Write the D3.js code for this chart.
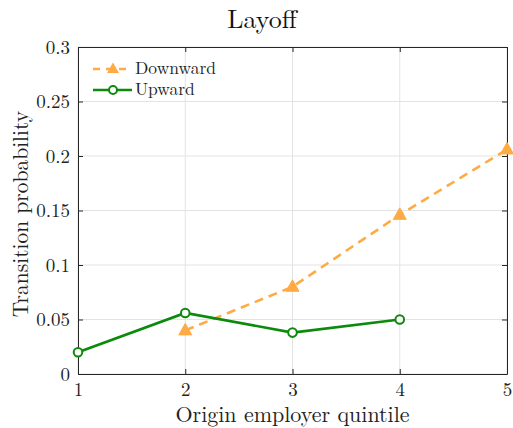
<!DOCTYPE html>
<html>
<head>
<meta charset="utf-8">
<script src="https://d3js.org/d3.v7.min.js"></script>
</head>
<body style="margin:0;background:#fff">
<div id="chart"></div>
<script>
// data
var quintiles = [1, 2, 3, 4, 5];
var downX = [2, 3, 4, 5];
var downward = [0.040, 0.080, 0.146, 0.206];
var upX = [1, 2, 3, 4];
var upward = [0.020, 0.056, 0.038, 0.050];
var yTicks = [0, 0.05, 0.1, 0.15, 0.2, 0.25, 0.3];

var FONT = "'Latin Modern Roman'";
var W = 513, H = 428;
var m = { left: 78, right: 6, top: 47, bottom: 54 };

var svg = d3.select("#chart").append("svg")
  .attr("width", W).attr("height", H);

var x = d3.scaleLinear().domain([1, 5]).range([m.left, W - m.right]);
var y = d3.scaleLinear().domain([0, 0.3]).range([H - m.bottom, m.top]);

// grid
svg.append("g").selectAll("line").data(quintiles).join("line")
  .attr("x1", d => x(d)).attr("x2", d => x(d))
  .attr("y1", y(0)).attr("y2", y(0.3))
  .attr("stroke", "#e3e3e3").attr("stroke-width", 1);
svg.append("g").selectAll("line").data(yTicks).join("line")
  .attr("x1", x(1)).attr("x2", x(5))
  .attr("y1", d => y(d)).attr("y2", d => y(d))
  .attr("stroke", "#e3e3e3").attr("stroke-width", 1);

// axes with inward ticks
var fmt = d => d3.format("~g")(d);
var xAxis = svg.append("g").attr("transform", "translate(0," + y(0) + ")")
  .call(d3.axisBottom(x).tickValues(quintiles).tickSizeInner(-5).tickSizeOuter(0).tickPadding(9).tickFormat(fmt));
var yAxis = svg.append("g").attr("transform", "translate(" + x(1) + ",0)")
  .call(d3.axisLeft(y).tickValues(yTicks).tickSizeInner(-5).tickSizeOuter(0).tickPadding(8).tickFormat(fmt));
var xTop = svg.append("g").attr("transform", "translate(0," + y(0.3) + ")")
  .call(d3.axisTop(x).tickValues(quintiles).tickSizeInner(-5).tickSizeOuter(0).tickFormat(""));
var yRight = svg.append("g").attr("transform", "translate(" + x(5) + ",0)")
  .call(d3.axisRight(y).tickValues(yTicks).tickSizeInner(-5).tickSizeOuter(0).tickFormat(""));

[xAxis, yAxis, xTop, yRight].forEach(function (g) {
  g.select(".domain").attr("stroke", "#262626").attr("stroke-width", 1);
  g.selectAll(".tick line").attr("stroke", "#262626");
  g.selectAll(".tick text").style("font-family", FONT)
    .style("font-size", "19px").attr("fill", "#222");
});

// series
var orange = "#ffab45", green = "#0b8a0b";
var line = d3.line().x(d => x(d[0])).y(d => y(d[1]));

var downData = downX.map((d, i) => [d, downward[i]]);
var upData = upX.map((d, i) => [d, upward[i]]);

svg.append("path").datum(downData).attr("d", line)
  .attr("fill", "none").attr("stroke", orange).attr("stroke-width", 2.6)
  .attr("stroke-dasharray", "9,6");
svg.append("g").selectAll("path").data(downData).join("path")
  .attr("transform", d => "translate(" + x(d[0]) + "," + y(d[1]) + ")")
  .attr("d", "M0,-7L6.5,4.5L-6.5,4.5Z")
  .attr("fill", orange).attr("stroke", orange).attr("stroke-width", 1);

svg.append("path").datum(upData).attr("d", line)
  .attr("fill", "none").attr("stroke", green).attr("stroke-width", 2.6);
svg.append("g").selectAll("circle").data(upData).join("circle")
  .attr("cx", d => x(d[0])).attr("cy", d => y(d[1])).attr("r", 4.3)
  .attr("fill", "#fff").attr("stroke", green).attr("stroke-width", 2);

// legend
var lg = svg.append("g");
lg.append("line").attr("x1", 93).attr("x2", 132).attr("y1", 69).attr("y2", 69)
  .attr("stroke", orange).attr("stroke-width", 2.6).attr("stroke-dasharray", "7,6");
lg.append("path").attr("transform", "translate(113,69)")
  .attr("d", "M0,-6.5L6,4L-6,4Z").attr("fill", orange);
lg.append("text").attr("x", 135).attr("y", 74).style("font-family", FONT)
  .style("font-size", "17.5px").attr("fill", "#222").text("Downward");
lg.append("line").attr("x1", 93).attr("x2", 132).attr("y1", 90).attr("y2", 90)
  .attr("stroke", green).attr("stroke-width", 2.6);
lg.append("circle").attr("cx", 113).attr("cy", 90).attr("r", 4)
  .attr("fill", "#fff").attr("stroke", green).attr("stroke-width", 2);
lg.append("text").attr("x", 135).attr("y", 95).style("font-family", FONT)
  .style("font-size", "17.5px").attr("fill", "#222").text("Upward");

// titles
svg.append("text").attr("x", 262).attr("y", 28)
  .attr("text-anchor", "middle").style("font-family", FONT)
  .style("font-size", "26px").attr("fill", "#111").text("Layoff");
svg.append("text").attr("x", (x(1) + x(5)) / 2).attr("y", 422)
  .attr("text-anchor", "middle").style("font-family", FONT)
  .style("font-size", "22px").attr("fill", "#222").text("Origin employer quintile");
svg.append("text")
  .attr("transform", "translate(28,214) rotate(-90)")
  .attr("text-anchor", "middle").style("font-family", FONT)
  .style("font-size", "21.5px").attr("fill", "#222").text("Transition probability");
</script>
</body>
</html>
